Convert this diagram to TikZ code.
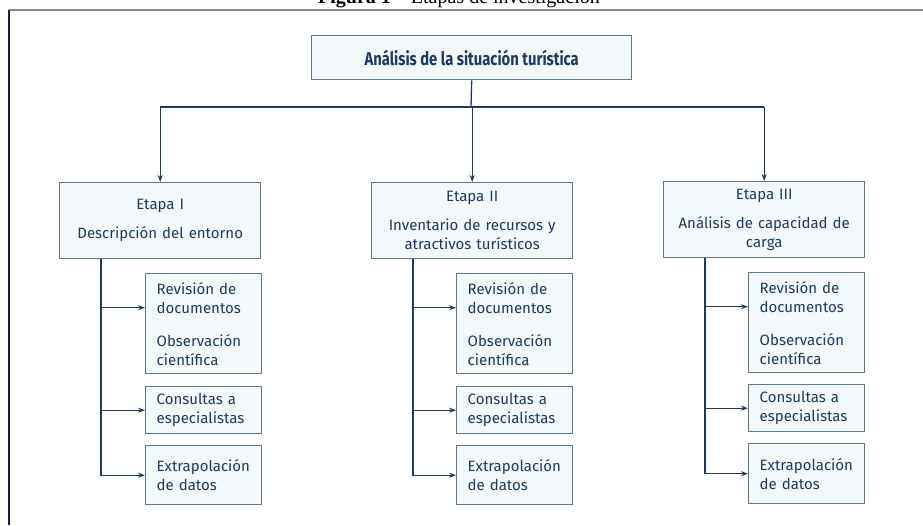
\documentclass[tikz,border=0pt]{standalone}
\usepackage{fontspec}
\setmainfont{Fira Sans}
\newfontfamily\headfont[FakeStretch=0.8]{Fira Sans}
\newfontfamily\capfont{Liberation Serif}
\usetikzlibrary{arrows.meta,positioning}
\definecolor{navy}{HTML}{1D3A5F}
\definecolor{boxline}{HTML}{5E7592}
\definecolor{boxfill}{HTML}{F3F8FB}
\definecolor{frametop}{HTML}{7D8C9C}

\begin{document}
\begin{tikzpicture}[x=1pt,y=-1pt,
		box/.style={draw=boxline, line width=1.4pt, fill=boxfill, text=navy, inner sep=0pt, font=\fontsize{15}{19}\selectfont},
		stage/.style={box, anchor=north west, minimum width=201pt, minimum height=76pt, text width=190pt, align=center},
		task/.style={box, anchor=north west, minimum width=116pt, inner xsep=11pt, text width=94pt, align=left},
		link/.style={draw=navy, line width=1.3pt},
		arr/.style={link, -{Stealth[length=7pt,width=5pt]}}]
	\useasboundingbox (0,0) rectangle (923,525);
	\clip (0,0) rectangle (923,525);
	\node[font=\capfont\fontsize{20}{22}\selectfont, anchor=base] (caption) at (459,3) {\textbf{Figura 1} – Etapas de investigación};
	\draw[frametop, line width=2pt] (9,10) -- (923,10);
	\draw[navy!60!black, line width=1.6pt] (9,10) -- (9,525);

	\node[box, font=\headfont\bfseries\fontsize{18.5}{21}\selectfont, anchor=north west, minimum width=320pt, minimum height=44pt] (top) at (311,35) {Análisis de la situación turística};

	\node[stage] (st1) at (59,182) {Etapa I\\[10pt]Descripción del entorno};
	\node[stage] (st2) at (371,182) {Etapa II\\[10pt]Inventario de recursos y\\atractivos turísticos};
	\node[stage] (st3) at (663,181) {Etapa III\\[10pt]Análisis de capacidad de\\carga};

	\node[task, minimum height=100pt] (rv1) at (145,273) {Revisión de\\documentos\\[14pt]Observación\\científica};
	\node[task, minimum height=47pt] (cs1) at (145,386) {Consultas a\\especialistas};
	\node[task, minimum height=59pt] (ex1) at (145,445) {Extrapolación\\de datos};

	\node[task, minimum height=100pt] (rv2) at (456,273) {Revisión de\\documentos\\[14pt]Observación\\científica};
	\node[task, minimum height=47pt] (cs2) at (456,386) {Consultas a\\especialistas};
	\node[task, minimum height=59pt] (ex2) at (456,445) {Extrapolación\\de datos};

	\node[task, minimum height=100pt] (rv3) at (748,272) {Revisión de\\documentos\\[14pt]Observación\\científica};
	\node[task, minimum height=47pt] (cs3) at (748,384) {Consultas a\\especialistas};
	\node[task, minimum height=60pt] (ex3) at (748,443) {Extrapolación\\de datos};

	\coordinate (bus) at (471,107);
	\draw[link] (top.south) -- (bus);
	\draw[link] (st1.north |- bus) -- (st3.north |- bus);
	\draw[arr] (st1.north |- bus) -- (st1.north);
	\draw[arr] (st2.north |- bus) -- (st2.north);
	\draw[arr] (st3.north |- bus) -- (st3.north);

	\coordinate (sp1) at ([xshift=42pt]st1.south west);
	\coordinate (sp2) at ([xshift=42pt]st2.south west);
	\coordinate (sp3) at ([xshift=42pt]st3.south west);
	\coordinate (in1) at ([yshift=16pt]rv1.west);
	\coordinate (in2) at ([yshift=16pt]rv2.west);
	\coordinate (in3) at ([yshift=16pt]rv3.west);

	\draw[arr] (sp1) |- (ex1.west);
	\draw[arr] (sp1 |- in1) -- (in1);
	\draw[arr] (sp1 |- cs1.west) -- (cs1.west);
	\draw[arr] (sp2) |- (ex2.west);
	\draw[arr] (sp2 |- in2) -- (in2);
	\draw[arr] (sp2 |- cs2.west) -- (cs2.west);
	\draw[arr] (sp3) |- (ex3.west);
	\draw[arr] (sp3 |- in3) -- (in3);
	\draw[arr] (sp3 |- cs3.west) -- (cs3.west);
\end{tikzpicture}
\end{document}
